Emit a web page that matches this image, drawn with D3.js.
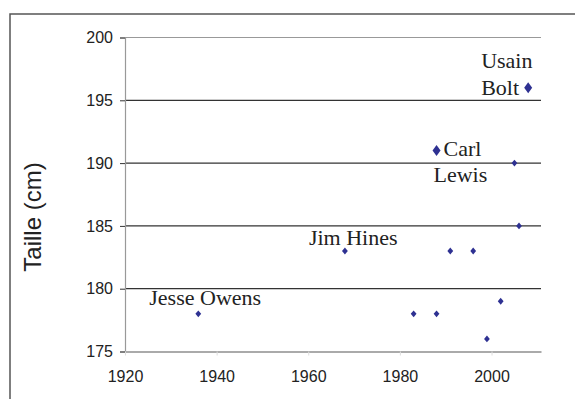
<!DOCTYPE html>
<html><head><meta charset="utf-8">
<script src="https://cdn.jsdelivr.net/npm/d3@7"></script>
<style>body{margin:0;background:#fff}svg{display:block}</style>
</head><body>
<script>
const years   = [1936, 1968, 1983, 1988, 1988, 1991, 1996, 1999, 2002, 2005, 2006, 2008];
const heights = [178, 183, 178, 178, 191, 183, 183, 176, 179, 190, 185, 196];
const big     = [false,false,false,false,true,false,false,false,false,false,false,true];
const labelNames = [["Jesse Owens"], ["Jim Hines"], ["Carl", "Lewis"], ["Usain", "Bolt"]];
const labelYears = [1936, 1968, 1988, 2008];
const labelHeights = [178, 183, 191, 196];
const xTicks = [1920, 1940, 1960, 1980, 2000];
const yTicks = [175, 180, 185, 190, 195, 200];
const yTitle = "Taille (cm)";

const W = 575, H = 399;
const svg = d3.select("body").append("svg").attr("width", W).attr("height", H);

svg.append("rect").attr("x", 10).attr("y", 14).attr("width", 600).attr("height", 420)
  .attr("fill", "none").attr("stroke", "#555").attr("stroke-width", 1.5);

const x = d3.scaleLinear().domain([1920, 2010.8]).range([125, 541]);
const y = d3.scaleLinear().domain([175, 200]).range([351.5, 37.5]);

// gridlines
svg.append("g").selectAll("line").data(yTicks.filter(t => t > 175)).join("line")
  .attr("x1", 125).attr("x2", 541).attr("y1", d => y(d)).attr("y2", d => y(d))
  .attr("stroke", d => d === 200 ? "#999" : "#333").attr("stroke-width", d => d === 200 ? 1 : 1.2);

// y axis
const yAxis = svg.append("g").attr("transform", "translate(125,0)")
  .call(d3.axisLeft(y).tickValues(yTicks).tickSize(5).tickPadding(7).tickFormat(d3.format("d")));
yAxis.select(".domain").attr("stroke", "#999").attr("stroke-width", 1.2);
yAxis.selectAll(".tick line").attr("stroke", "#333");
yAxis.selectAll("text").attr("font-family", "Liberation Sans, Arial, sans-serif")
  .attr("font-size", 16).attr("fill", "#222");

// x axis
const xAxis = svg.append("g").attr("transform", "translate(0,351.5)")
  .call(d3.axisBottom(x).tickValues(xTicks).tickSize(4).tickPadding(15).tickSizeOuter(0).tickFormat(d3.format("d")));
xAxis.select(".domain").attr("stroke", "#aaa").attr("stroke-width", 2);
xAxis.selectAll(".tick line").attr("stroke", "#ddd");
xAxis.selectAll("text").attr("font-family", "Liberation Sans, Arial, sans-serif")
  .attr("font-size", 16).attr("fill", "#222");

// y title
svg.append("text").attr("transform", "translate(41,217) rotate(-90)")
  .attr("text-anchor", "middle").attr("font-family", "Liberation Sans, Arial, sans-serif")
  .attr("font-size", 24).attr("fill", "#222").text(yTitle);

// markers
const pts = years.map((yr, i) => ({yr, h: heights[i], big: big[i]}));
svg.append("g").selectAll("path").data(pts).join("path")
  .attr("transform", d => `translate(${x(d.yr)},${y(d.h)})`)
  .attr("d", d => {
    const w = d.big ? 4 : 2.9, hh = d.big ? 5.5 : 3.4;
    return `M0,${-hh}L${w},0L0,${hh}L${-w},0Z`;
  })
  .attr("fill", "#2E3192");

// labels
const labelFont = "Liberation Serif, Times New Roman, serif";
const lab = svg.append("g").attr("font-family", labelFont).attr("font-size", 22).attr("fill", "#222");
lab.append("text").attr("x", x(labelYears[0]) - 49).attr("y", y(labelHeights[0]) - 9).text(labelNames[0][0]);
lab.append("text").attr("x", x(labelYears[1]) - 36).attr("y", y(labelHeights[1]) - 6).text(labelNames[1][0]);
lab.append("text").attr("x", x(labelYears[2]) + 7).attr("y", y(labelHeights[2]) + 5).text(labelNames[2][0]);
lab.append("text").attr("x", x(labelYears[2]) - 3).attr("y", y(labelHeights[2]) + 31).text(labelNames[2][1]);
lab.append("text").attr("x", x(labelYears[3]) - 47).attr("y", y(labelHeights[3]) - 20).text(labelNames[3][0]);
lab.append("text").attr("x", x(labelYears[3]) - 47).attr("y", y(labelHeights[3]) + 7).text(labelNames[3][1]);
</script>
</body></html>
